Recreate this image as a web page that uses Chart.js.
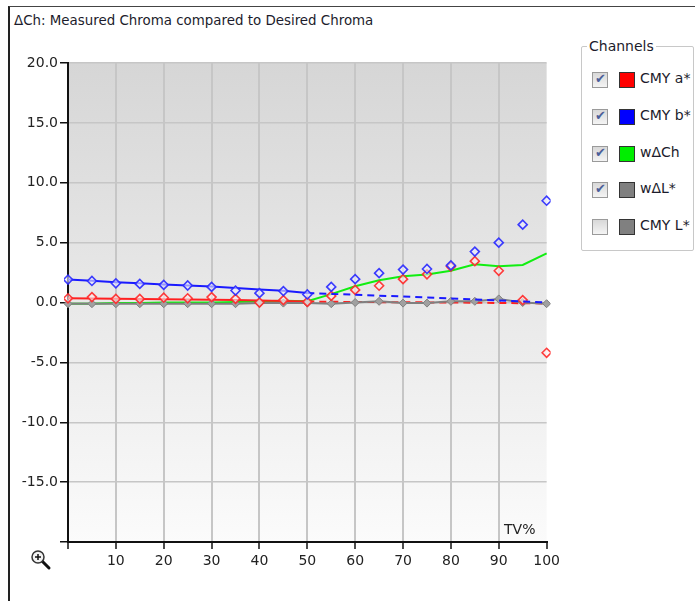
<!DOCTYPE html>
<html>
<head>
<meta charset="utf-8">
<script src="https://cdn.jsdelivr.net/npm/chart.js@4"></script>
<style>
    body { margin: 0; background: #fff; font-family: "DejaVu Sans", sans-serif; color: #1c1c2c; }
    #page { position: relative; width: 695px; height: 601px; overflow: hidden; }
    #frame { position: absolute; left: 8px; top: 6px; right: -2px; bottom: -2px; border-left: 2px solid #222; border-top: 1px solid #444; }
    #title { position: absolute; left: 14px; top: 13px; font-size: 13.4px; white-space: nowrap; }
    #chartCanvas { position: absolute; left: 8px; top: 40px; }
    #tvLabel { position: absolute; left: 504px; top: 521px; font-size: 14px; color: #222; }
    #zoomIcon { position: absolute; left: 30px; top: 549px; }
    #channels { position: absolute; left: 581px; top: 46px; width: 111px; height: 203px; border: 1px solid #c8c8c8; border-radius: 2px; }
    #channelsTitle { position: absolute; left: 587px; top: 38px; padding: 0 2px; background: #fff; font-size: 14px; }
    .item { position: absolute; left: 592px; height: 16px; font-size: 14px; white-space: nowrap; }
    .check { position: absolute; left: 0; top: 0; width: 14px; height: 14px; border: 1px solid #9a9a9a; background: linear-gradient(#d8d8d8, #f4f4f4); }
    .check span { position: absolute; left: 2px; top: -2px; font-size: 13px; color: #4b5f99; }
    .swatch { position: absolute; left: 27px; top: 0; width: 14px; height: 14px; border: 1px solid #333; }
    .label { position: absolute; left: 48px; top: -2px; }
</style>
</head>
<body>
<div id="page">
    <div id="frame"></div>
    <div id="title">ΔCh: Measured Chroma compared to Desired Chroma</div>
    <canvas id="chartCanvas" width="556" height="545"></canvas>
    <div id="tvLabel">TV%</div>
    <svg id="zoomIcon" width="22" height="22" viewBox="0 0 22 22">
        <line x1="12" y1="12" x2="19" y2="19" stroke="#111" stroke-width="3" stroke-linecap="round"/>
        <circle cx="8" cy="8" r="6" fill="#f2f2f2" stroke="#333" stroke-width="1.5"/>
        <line x1="5" y1="8" x2="11" y2="8" stroke="#111" stroke-width="1.5"/>
        <line x1="8" y1="5" x2="8" y2="11" stroke="#111" stroke-width="1.5"/>
    </svg>
    <div id="channels"></div>
    <div id="channelsTitle">Channels</div>
    <div id="legendItems"></div>
</div>
<script>
// TV% steps
var tvSteps = [0, 5, 10, 15, 20, 25, 30, 35, 40, 45, 50, 55, 60, 65, 70, 75, 80, 85, 90, 95, 100];

// CMY a* : measured (diamonds) and fitted curve
var cmyAMeasured = [0.35, 0.45, 0.3, 0.3, 0.4, 0.35, 0.45, 0.3, 0.0, 0.2, 0.05, 0.55, 1.05, 1.4, 1.95, 2.35, 3.0, 3.45, 2.65, 0.2, -4.2];
var cmyAFit = [0.35, 0.33, 0.31, 0.29, 0.27, 0.25, 0.23, 0.2, 0.16, 0.12, 0.08, 0.06, 0.04, 0.03, 0.02, 0.01, 0.0, -0.02, -0.04, -0.06, -0.08];

// CMY b* : measured (diamonds) and fitted curve
var cmyBMeasured = [1.92, 1.8, 1.6, 1.55, 1.47, 1.42, 1.3, 1.0, 0.78, 0.95, 0.67, 1.3, 1.95, 2.45, 2.75, 2.8, 3.1, 4.25, 5.0, 6.5, 8.5];
var cmyBFit = [1.92, 1.82, 1.7, 1.6, 1.5, 1.42, 1.33, 1.22, 1.08, 0.98, 0.8, 0.72, 0.65, 0.57, 0.5, 0.42, 0.34, 0.25, 0.17, 0.08, 0.0];

// weighted deltas
var wDeltaCh = [-0.1, -0.1, -0.05, -0.05, 0.0, 0.0, 0.0, 0.05, 0.1, 0.15, 0.1, 0.7, 1.35, 1.85, 2.2, 2.33, 2.65, 3.2, 3.03, 3.14, 4.1];
var wDeltaL = [-0.1, -0.1, -0.1, -0.1, -0.1, -0.1, -0.1, -0.1, -0.05, -0.05, -0.05, -0.1, 0.0, 0.1, -0.05, -0.05, 0.1, 0.1, 0.3, 0.0, -0.1];

// legend
var channelNames = ['CMY a*', 'CMY b*', 'w\u0394Ch', 'w\u0394L*', 'CMY L*'];
var channelColors = ['#ff0000', '#0000ff', '#00ee00', '#808080', '#808080'];
var channelChecked = [true, true, true, true, false];

var yTickMin = -20, yTickMax = 20, yTickStep = 5;
var xTickMin = 0, xTickMax = 100, xTickStep = 10;

function points(ys) {
    return tvSteps.map(function(t, i) { return { x: t, y: ys[i] }; });
}

function dashAfter50(ctx) {
    return ctx.p0.parsed.x >= 50 ? [7, 5] : undefined;
}

var legendBox = document.getElementById('legendItems');
var rowTops = [72, 109, 146, 182, 219];
channelNames.forEach(function(name, i) {
    var row = document.createElement('div');
    row.className = 'item';
    row.style.top = rowTops[i] + 'px';
    row.innerHTML = '<div class="check">' + (channelChecked[i] ? '<span>\u2714</span>' : '') + '</div>' +
        '<div class="swatch" style="background:' + channelColors[i] + '"></div>' +
        '<div class="label">' + name + '</div>';
    legendBox.appendChild(row);
});

var plotBackground = {
    id: 'plotBackground',
    beforeDraw: function(chart) {
        var a = chart.chartArea;
        var ctx = chart.ctx;
        var grad = ctx.createLinearGradient(0, a.top, 0, a.bottom);
        grad.addColorStop(0, '#d6d6d6');
        grad.addColorStop(1, '#fbfbfb');
        ctx.save();
        ctx.fillStyle = grad;
        ctx.fillRect(a.left, a.top, a.right - a.left, a.bottom - a.top);
        ctx.restore();
    }
};

var ctxChart = document.getElementById('chartCanvas').getContext('2d');
var chromaChart = new Chart(ctxChart, {
    type: 'line',
    data: {
        datasets: [{
            label: 'CMY b* measured',
            data: points(cmyBMeasured),
            showLine: false,
            pointStyle: 'rectRot',
            pointRadius: 4.5,
            pointBorderWidth: 1.6,
            pointBorderColor: 'rgba(40, 40, 255, 0.9)',
            pointBackgroundColor: 'rgba(235, 235, 255, 0.6)',
            order: 0
        }, {
            label: 'CMY b*',
            data: points(cmyBFit),
            borderColor: '#1a1aff',
            borderWidth: 2,
            pointRadius: 0,
            segment: { borderDash: dashAfter50 },
            order: 1
        }, {
            label: 'CMY a* measured',
            data: points(cmyAMeasured),
            showLine: false,
            pointStyle: 'rectRot',
            pointRadius: 4.5,
            pointBorderWidth: 1.6,
            pointBorderColor: 'rgba(255, 40, 40, 0.9)',
            pointBackgroundColor: 'rgba(255, 235, 235, 0.6)',
            order: 2
        }, {
            label: 'w\u0394L*',
            data: points(wDeltaL),
            borderColor: '#808080',
            borderWidth: 2,
            pointStyle: 'rectRot',
            pointRadius: 4,
            pointBorderWidth: 1,
            pointBorderColor: '#808080',
            pointBackgroundColor: '#a0a0a0',
            order: 3
        }, {
            label: 'CMY a*',
            data: points(cmyAFit),
            borderColor: '#ff2020',
            borderWidth: 2,
            pointRadius: 0,
            segment: { borderDash: dashAfter50 },
            order: 4
        }, {
            label: 'w\u0394Ch',
            data: points(wDeltaCh),
            borderColor: '#11ee11',
            borderWidth: 2,
            pointRadius: 0,
            order: 5
        }]
    },
    options: {
        responsive: false,
        animation: false,
        devicePixelRatio: 1,
        clip: 4,
        layout: { padding: { left: 0, top: 23, right: 0, bottom: 0 } },
        plugins: {
            legend: { display: false },
            tooltip: { enabled: false },
            title: { display: false }
        },
        scales: {
            x: {
                type: 'linear',
                min: xTickMin,
                max: xTickMax,
                afterFit: function(scale) { scale.height = 43; },
                border: { color: '#111', width: 2 },
                grid: {
                    color: function(c) { return c.tick && c.tick.value === xTickMax ? 'rgba(0,0,0,0)' : '#c6c6c6'; },
                    lineWidth: 2, tickColor: '#111', tickLength: 7, tickWidth: 1.5
                },
                ticks: {
                    stepSize: xTickStep,
                    padding: 4,
                    color: '#222',
                    font: { family: 'DejaVu Sans', size: 14 },
                    maxRotation: 0,
                    callback: function(v) { return v === 0 ? '' : String(v); }
                }
            },
            y: {
                min: yTickMin,
                max: yTickMax,
                afterFit: function(scale) { scale.width = 60; },
                border: { color: '#111', width: 2 },
                grid: { color: '#c6c6c6', lineWidth: 1.5, tickColor: '#111', tickLength: 8, tickWidth: 1.5 },
                ticks: {
                    stepSize: yTickStep,
                    padding: 2,
                    color: '#222',
                    font: { family: 'DejaVu Sans', size: 14 },
                    callback: function(v) { return v === yTickMin ? '' : v.toFixed(1); }
                }
            }
        }
    },
    plugins: [plotBackground]
});
</script>
</body>
</html>
